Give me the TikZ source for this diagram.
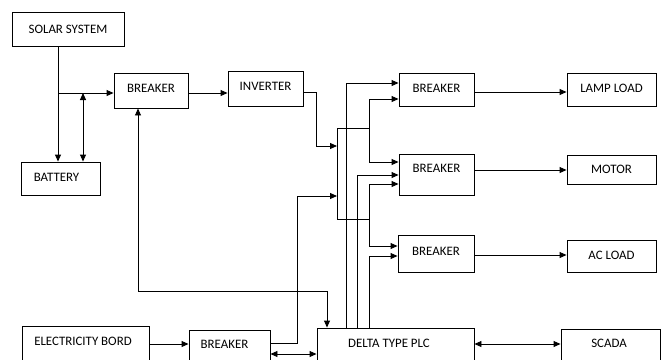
\documentclass[tikz,border=0pt]{standalone}
\usepackage{fontspec}
\setmainfont{Carlito}
\usetikzlibrary{arrows.meta}
\begin{document}
\begin{tikzpicture}[x=1pt,y=-1pt,
  box/.style={draw, line width=0.9pt, inner sep=0pt, font=\fontsize{12.9}{15}\selectfont, text height=9pt, text depth=0.7pt},
  vs/.style={text depth=#1},
  arr/.style={line width=0.9pt, -{Triangle[length=7pt,width=6pt]}},
  darr/.style={line width=0.9pt, {Triangle[length=7pt,width=6pt]}-{Triangle[length=7pt,width=6pt]}},
]
\clip (0,0) rectangle (667,359);
% boxes
\node[box, minimum width=112pt, minimum height=34pt] (solar) at (68,29) {SOLAR SYSTEM};
\node[box, minimum width=79pt, minimum height=33pt, vs=3.7pt] (battery) at (60.5,178.5) {BATTERY\hspace*{8pt}};
\node[box, minimum width=74pt, minimum height=35pt, vs=5.7pt] (br1) at (151,90.5) {BREAKER};
\node[box, minimum width=75pt, minimum height=35pt, vs=5.7pt] (inv) at (265.5,88.5) {INVERTER};
\node[box, minimum width=75pt, minimum height=33pt, vs=3.7pt] (brA) at (436.5,89.5) {BREAKER};
\node[box, minimum width=75pt, minimum height=41pt, vs=13.7pt] (brB) at (436.5,174.5) {BREAKER};
\node[box, minimum width=76pt, minimum height=37pt, vs=5.7pt] (brC) at (436,253.5) {BREAKER};
\node[box, minimum width=89pt, minimum height=33pt, vs=3.7pt] (lamp) at (611.5,89.5) {LAMP LOAD};
\node[box, minimum width=89pt, minimum height=29pt] (motor) at (611.5,169.5) {MOTOR};
\node[box, minimum width=89pt, minimum height=32pt, vs=2.7pt] (acload) at (611.5,256) {AC LOAD};
\node[box, minimum width=127pt, minimum height=40pt, vs=10.7pt] (eb) at (85.5,346) {ELECTRICITY BORD\hspace*{5pt}};
\node[box, minimum width=81pt, minimum height=40pt, vs=12.7pt] (brD) at (229.5,350) {BREAKER\hspace*{10pt}};
\node[box, minimum width=157pt, minimum height=40pt, vs=10.7pt] (plc) at (395.5,348) {DELTA TYPE PLC\hspace*{13pt}};
\node[box, minimum width=99pt, minimum height=40pt, vs=12.7pt] (scada) at (610.5,349) {SCADA\hspace*{3pt}};
% junction coordinates
\coordinate (j1) at (58,93);
\coordinate (j2) at (83,93);
\coordinate (bt) at (337,128);
\coordinate (bb) at (337,219);
% solar side
\draw[arr] (solar.south -| j1) -- (j1 |- battery.north);
\draw[arr] (j1) -- (j1 -| br1.west);
\draw[darr] (j2) -- (j2 |- battery.north);
\draw[arr] (br1.east |- j1) -- (inv.west |- j1);
\draw[arr] (inv.east |- 0,92) -| (316,146) -- (bt |- 0,146);
% bus
\draw[line width=0.9pt] (bt) -- (bb);
\draw[arr] (bt) -| (369,99) -- (brA.west |- 0,99);
\draw[arr] (bt) -| (369,162) -- (brB.west |- 0,162);
\draw[arr] (bb) -| (369,184) -- (brB.west |- 0,184);
\draw[arr] (bb) -| (369,246) -- (brC.west |- 0,246);
\draw[arr] (brD.east |- 0,343) -| (297,196) -- (bb |- 0,196);
% PLC control lines
\draw[arr] (plc.north -| 346,0) |- (brA.west |- 0,83);
\draw[arr] (plc.north -| 357,0) |- (brB.west |- 0,175);
\draw[arr] (plc.north -| 369,0) |- (brC.west |- 0,256);
\draw[darr] (br1.south -| 138,0) |- (327,291) -- (plc.north -| 327,0);
% loads
\draw[arr] (brA.east |- 0,92) -- (lamp.west |- 0,92);
\draw[arr] (brB.east |- 0,170) -- (motor.west |- 0,170);
\draw[arr] (brC.east |- 0,255) -- (acload.west |- 0,255);
% bottom row
\draw[arr] (eb.east |- 0,344) -- (brD.west |- 0,344);
\draw[darr] (brD.east |- 0,354) -- (plc.west |- 0,354);
\draw[darr] (plc.east |- 0,344) -- (scada.west |- 0,344);
\end{tikzpicture}
\end{document}
